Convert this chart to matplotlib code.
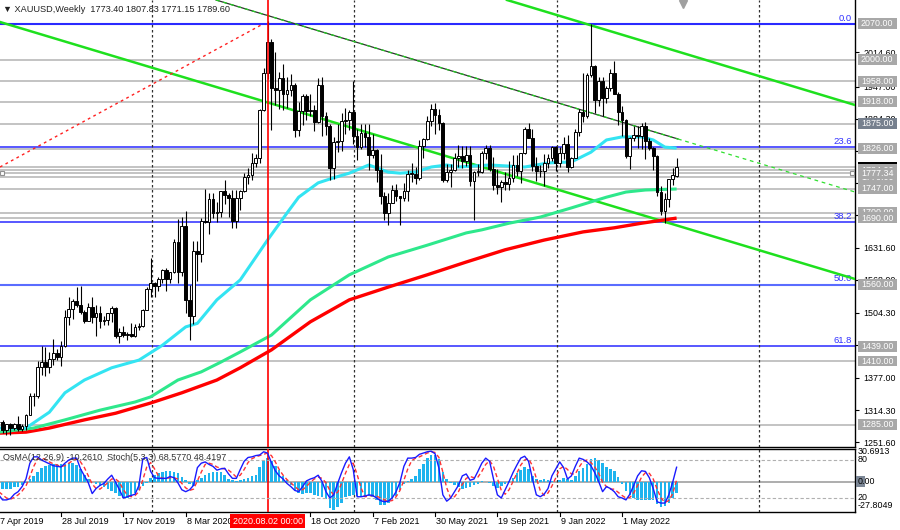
import matplotlib
matplotlib.use("Agg")
import matplotlib.pyplot as plt
import matplotlib.transforms as mtransforms
from matplotlib.patches import Rectangle

plt.rcParams['font.family'] = ['Liberation Sans', 'DejaVu Sans']

# weekly XAUUSD candles, 7 Apr 2019 .. 7 Aug 2022
opens = [1291,1290,1276,1286,1279,1286,1277,1283,1305,1341,1341,1399,1409,1399,1415,1426,1419,1440,1497,1513,
         1527,1520,1506,1488,1516,1497,1505,1489,1490,1505,1514,1459,1468,1462,1464,1460,1476,1479,1510,1552,
         1562,1557,1571,1589,1570,1584,1643,1585,1674,1530,1498,1625,1620,1684,1683,1727,1700,1702,1743,1735,
         1730,1684,1730,1743,1771,1774,1798,1808,1901,1975,2035,1944,1940,1964,1933,1940,1950,1862,1900,1930,
         1899,1902,1879,1951,1889,1871,1788,1839,1840,1881,1883,1898,1850,1829,1856,1848,1814,1824,1784,1734,
         1700,1719,1745,1733,1729,1744,1777,1777,1769,1831,1844,1881,1903,1892,1877,1764,1781,1784,1808,1812,
         1802,1814,1763,1780,1781,1818,1827,1787,1754,1750,1761,1757,1768,1793,1783,1818,1865,1846,1792,1783,
         1782,1798,1808,1829,1797,1817,1835,1791,1807,1859,1898,1889,1970,1988,1921,1958,1925,1945,1974,1932,
         1897,1883,1811,1846,1853,1851,1871,1840,1827,1811,1742,1703,1727,1766,1773.40]
highs = [1310,1295,1287,1289,1288,1303,1286,1306,1348,1348,1411,1439,1437,1427,1453,1434,1449,1510,1535,1531,
         1555,1557,1510,1523,1535,1519,1517,1498,1505,1517,1515,1475,1478,1467,1485,1482,1485,1513,1556,1611,
         1564,1575,1591,1592,1584,1649,1689,1692,1703,1560,1645,1645,1690,1747,1739,1739,1722,1740,1765,1739,
         1745,1745,1746,1779,1789,1818,1815,1903,1984,2075,2040,2015,1976,1992,1966,1973,1955,1917,1933,1933,
         1933,1911,1965,1966,1898,1875,1848,1875,1896,1906,1902,1959,1864,1875,1875,1875,1855,1826,1816,1741,
         1740,1755,1756,1733,1758,1785,1797,1790,1843,1846,1890,1913,1916,1903,1878,1795,1795,1818,1834,1832,
         1832,1832,1783,1795,1822,1834,1834,1809,1787,1764,1781,1801,1814,1813,1818,1868,1877,1865,1809,1793,
         1815,1815,1831,1831,1830,1848,1853,1810,1865,1903,1974,1974,2070,1990,1966,1966,1949,1982,1998,1936,
         1909,1884,1849,1870,1870,1876,1879,1847,1829,1813,1752,1739,1767,1788,1807.83]
lows = [1281,1270,1266,1266,1276,1274,1273,1276,1305,1323,1338,1382,1381,1386,1402,1412,1400,1437,1480,1492,
        1516,1503,1484,1488,1485,1459,1474,1480,1480,1486,1456,1445,1457,1452,1457,1458,1471,1477,1510,1535,
        1536,1547,1563,1548,1563,1582,1563,1576,1504,1451,1482,1566,1604,1680,1659,1690,1683,1692,1717,1693,
        1670,1671,1705,1741,1757,1764,1791,1797,1899,1963,1863,1911,1903,1902,1906,1929,1848,1851,1873,1882,
        1890,1860,1876,1851,1853,1764,1767,1819,1822,1855,1862,1835,1803,1826,1830,1785,1807,1761,1717,1687,
        1676,1719,1723,1677,1723,1724,1760,1756,1765,1808,1842,1870,1855,1862,1761,1761,1750,1783,1791,1789,
        1792,1753,1687,1772,1778,1806,1782,1745,1737,1721,1746,1746,1760,1772,1758,1815,1848,1782,1762,1771,
        1753,1789,1801,1782,1790,1805,1780,1788,1807,1850,1878,1885,1966,1895,1910,1890,1915,1938,1932,1872,
        1850,1808,1787,1840,1828,1825,1805,1823,1784,1733,1696,1681,1711,1754,1771.15]
closes = [1290,1276,1286,1279,1286,1277,1283,1305,1341,1341,1399,1409,1399,1415,1426,1419,1440,1497,1513,1527,
          1520,1506,1488,1516,1497,1505,1489,1490,1505,1514,1459,1468,1462,1464,1460,1476,1479,1510,1552,1562,
          1557,1571,1589,1570,1584,1643,1585,1674,1530,1498,1625,1620,1684,1683,1727,1700,1702,1743,1735,1730,
          1684,1730,1743,1771,1774,1798,1808,1901,1975,2035,1944,1940,1964,1933,1940,1950,1862,1900,1930,1899,
          1902,1879,1951,1889,1871,1788,1839,1840,1881,1883,1898,1850,1829,1856,1848,1814,1824,1784,1734,1700,
          1719,1745,1733,1729,1744,1777,1777,1769,1831,1844,1881,1903,1892,1877,1764,1781,1784,1808,1812,1802,
          1814,1763,1780,1781,1818,1827,1787,1754,1750,1761,1757,1768,1793,1783,1818,1865,1846,1792,1783,1782,
          1798,1808,1829,1797,1817,1835,1791,1807,1859,1898,1889,1970,1988,1921,1958,1925,1945,1974,1932,1897,
          1883,1811,1846,1853,1851,1871,1840,1827,1811,1742,1703,1727,1766,1775,1789.60]

# moving averages (week index, price)
cyan_weeks = [0,7,13,17,22,29,36,42,48,51,56,62,69,74,77,82,86,90,95,100,103,107,111,115,118,126,135,141,147,152,156,160,165,168,171,174]
cyan_vals = [1279,1279,1310,1348,1373,1397,1412,1441,1477,1484,1530,1569,1647,1700,1731,1759,1769,1778,1794,1780,1778,1780,1790,1794,1790,1794,1790,1798,1800,1819,1843,1849,1849,1843,1829,1827]
green_weeks = [0,9,17,26,35,39,46,52,57,62,70,80,90,100,110,120,124,131,139,147,156,161,166,174]
green_vals = [1271,1279,1295,1314,1330,1340,1373,1389,1408,1428,1461,1530,1579,1614,1637,1661,1667,1680,1692,1710,1731,1741,1745,1747]
red_weeks = [0,7,13,22,30,39,47,56,62,70,80,90,100,110,120,130,140,150,158,165,174]
red_vals = [1269,1271,1279,1295,1308,1328,1348,1373,1397,1432,1487,1530,1555,1579,1604,1628,1647,1663,1671,1680,1690]

# OsMA(12,26,9) histogram and Stoch(5,3,3)
osma = [-6,-6.5,-6.4,-6,-5,-4.5,-3,-1,2.5,6,9,13,14.5,15.5,16.5,17,16.5,17,17.5,18,
        16,12,7,3,0.5,-2,-3.5,-5,-6.5,-8,-10.5,-13,-15,-14.5,-12,-10,-7,-3.5,-1,4,
        6.5,8,9.5,10.5,10,9.5,8.5,5,1.5,-2,-3.5,2,4,6.5,8.5,9.5,9.5,9,7,3,
        1.5,1,2,3,4,5.5,7,14,20,22,20,15,11,6,2,-3,-7,-10,-11,-10.5,
        -10,-12,-13,-14,-15.5,-24,-25.5,-23,-19,-14,-13,-12,-13,-13.5,-13,-12.5,-14,-17,-21,-21.5,
        -19,-16,-12.5,-7,-2,1,3,6,12,17,22,25,25.5,21.5,9,3,-1,-3,-5,-6,
        -5.5,-4.5,-3,-1.5,1,0.5,-1,-3.5,-5.5,-4,-2,1,4,8,11,14,12,6,3,2,
        2.5,2,1,0,2,4,3,2,6,10,13,17,21,22,20.5,17.5,14,12,10,5,
        -2,-8,-12,-15,-17,-17,-17,-16.5,-17,-20,-23,-22,-19,-15,-10.26]
stoch_main = [25,17,17,19,26,30,38,50,75,85,85,80,77,74,71,70,69,75,80,83,
              83,66,55,44,27,35,40,43,50,56,45,33,20,22,24,26,40,82,84,62,
              52,51,51,51,54,52,44,33,30,33,40,68,75,77,73,70,64,66,67,58,
              51,51,65,78,84,85,87,88,93,91,76,63,55,50,43,38,32,30,38,47,
              50,52,56,46,30,20,25,43,60,75,85,65,22,22,23,25,24,20,16,14,
              15,20,30,45,70,83,83,84,89,91,93,94,90,67,25,15,20,30,40,55,
              58,48,50,62,75,83,78,50,25,20,33,46,60,72,83,86,78,50,25,22,
              26,35,55,66,77,68,50,55,70,83,81,77,71,60,46,30,38,35,30,22,
              20,17,26,40,55,63,62,52,35,14,12,12,25,45,68.58]
stoch_signal = [30,25,20,18,21,25,31,39,54,70,82,83,81,77,74,72,70,71,75,79,
                82,77,68,55,42,35,34,39,44,50,50,45,33,25,22,24,30,49,69,76,
                66,55,51,51,52,52,50,43,36,32,34,47,61,73,75,73,69,67,66,64,
                59,53,56,65,76,82,85,87,89,91,87,77,65,56,49,44,38,33,33,38,
                45,50,53,51,44,32,25,29,43,59,73,75,57,36,22,23,24,23,20,17,
                15,16,22,32,48,66,79,83,85,88,91,93,92,84,61,36,20,22,30,42,
                51,54,52,53,62,73,79,70,51,32,26,33,46,59,72,80,82,71,51,32,
                24,28,39,52,66,70,65,58,58,69,78,80,76,69,59,45,38,34,34,29,
                24,20,21,28,40,53,60,59,50,34,20,13,16,27,48.42]

gray_levels = [2000, 1958, 1918, 1875, 1826, 1790, 1784, 1777.34, 1770, 1747, 1700, 1690, 1410, 1285]
fib_prices = [2070, 1830, 1682, 1560, 1440]
fib_names = ['0.0', '23.6', '38.2', '50.0', '61.8']
axis_ticks = [2014.60, 1947.00, 1884.30, 1821.60, 1758.90, 1696.20, 1631.60, 1568.90,
              1504.30, 1441.60, 1377.00, 1314.30, 1251.60]
# price boxes on the axis, in drawing order (later ones cover earlier ones)
box_prices = [2070, 2000, 1958, 1918, 1875, 1826, 1789.60, 1770, 1784, 1777.34,
              1747, 1700, 1690, 1560, 1439, 1410, 1285]
box_colors = ['#a8a8a8', '#a8a8a8', '#a8a8a8', '#a8a8a8', '#76808e', '#a8a8a8', '#000000',
              '#a8a8a8', '#a8a8a8', '#a8a8a8', '#a8a8a8', '#a8a8a8', '#a8a8a8', '#a8a8a8',
              '#a8a8a8', '#a8a8a8', '#a8a8a8']
date_weeks = [0, 16, 32, 48, 80, 96, 112, 128, 144, 160]
date_labels = ['7 Apr 2019', '28 Jul 2019', '17 Nov 2019', '8 Mar 2020', '18 Oct 2020', '7 Feb 2021',
               '30 May 2021', '19 Sep 2021', '9 Jan 2022', '1 May 2022']
separators = [39.35, 91.2, 143.3, 195.15]
marked_week = 69


def px_x(x):
    return (x + 1.3) / 3.896


def px_y(y):
    return 2070 - (y - 24) * 1.9577


W, H = 900, 530
FS = 6.4
fig = plt.figure(figsize=(9, 5.3), dpi=100)
fig.patch.set_facecolor('white')
ax = fig.add_axes([0, 1 - 447 / H, 855 / W, 447 / H])
ax2 = fig.add_axes([0, 1 - 512 / H, 855 / W, 63 / H])
xl = (px_x(0), px_x(855))
ax.set_xlim(xl)
ax2.set_xlim(xl)
ax.set_ylim(px_y(447), px_y(0))

for a in (ax, ax2):
    a.spines['left'].set_visible(False)
    a.spines['top'].set_visible(a is ax2)
    for s in a.spines.values():
        s.set_linewidth(1.0)
    a.set_xticks([])

# horizontal levels
for lv in gray_levels:
    ax.axhline(lv, color='#b9b9b9', lw=1.2, zorder=1)
for fp, fn in zip(fib_prices, fib_names):
    col = '#5a6cff' if fn == '50.0' else '#2a2aff'
    ax.axhline(fp, color=col, lw=1.5 if fn in ('0.0', '50.0') else 1.1, zorder=2)
    ax.text(852, fp + 2, fn, transform=mtransforms.blended_transform_factory(
        mtransforms.IdentityTransform(), ax.transData), color='#3030ff', fontsize=6.8,
        ha='right', va='bottom', zorder=3)

# trend lines
ax.plot([px_x(0), px_x(855)], [px_y(22), px_y(279)], color='#1ee01e', lw=1.8, zorder=3)
ax.plot([px_x(507), px_x(855)], [px_y(0), px_y(105)], color='#1ee01e', lw=1.8, zorder=3)
ax.plot([px_x(216), px_x(678)], [px_y(0), px_y(139)], color='#303030', lw=0.9, zorder=3)
ax.plot([px_x(216), px_x(678)], [px_y(0), px_y(139)], color='#20d020', lw=0.9,
        dashes=(3, 3), zorder=3)
ax.plot([px_x(678), px_x(855)], [px_y(139), px_y(192)], color='#30e030', lw=0.9,
        dashes=(3, 3), zorder=3)
ax.plot([px_x(0), px_x(263)], [px_y(167), px_y(24)], color='#ff2020', lw=1.0,
        dashes=(2, 2.5), zorder=3)

# separators and marked bar
for a in (ax, ax2):
    for s in separators:
        a.axvline(s, color='#303030', lw=0.9, ls=(0, (2, 2)), zorder=2)
    a.axvline(marked_week, color='#ff0000', lw=1.2, zorder=6)

# moving averages
ax.plot(red_weeks, red_vals, color='#ff0000', lw=2.4, zorder=4, solid_capstyle='butt')
ax.plot(green_weeks, green_vals, color='#2ee88c', lw=2.2, zorder=4, solid_capstyle='butt')
ax.plot(cyan_weeks, cyan_vals, color='#33e4f2', lw=2.2, zorder=4, solid_capstyle='butt')

# candles
idx = list(range(len(closes)))
ax.vlines(idx, lows, highs, color='black', lw=0.8, zorder=5)
bull = [i for i in idx if closes[i] >= opens[i]]
bear = [i for i in idx if closes[i] < opens[i]]
ax.bar(bull, [max(closes[i] - opens[i], 1.5) for i in bull], bottom=[opens[i] for i in bull],
       width=0.7, color='white', edgecolor='black', linewidth=0.7, zorder=5)
ax.bar(bear, [opens[i] - closes[i] for i in bear], bottom=[closes[i] for i in bear],
       width=0.7, color='black', edgecolor='black', linewidth=0.7, zorder=5)
ax.plot([px_x(2), px_x(852)], [1777.34, 1777.34], ls='none', marker='s', ms=3,
        mfc='white', mec='#909090', mew=0.8, zorder=6)

# price axis
ax.yaxis.tick_right()
ax.set_yticks(axis_ticks)
ax.set_yticklabels(['%.2f' % t for t in axis_ticks])
ax.tick_params(axis='y', labelsize=FS, length=3, width=0.8, pad=3, colors='black')
btr = mtransforms.blended_transform_factory(ax.transAxes, ax.transData)
for k, (price, col) in enumerate(zip(box_prices, box_colors)):
    ax.add_patch(Rectangle((858 / 855, price - 10.5), 39 / 855, 21.5, transform=btr,
                           facecolor=col, edgecolor='none', clip_on=False, zorder=10 + 2 * k))
    ax.text(861 / 855, price, '%.2f' % price, transform=btr, color='white', fontsize=FS,
            va='center', ha='left', zorder=11 + 2 * k, clip_on=False)

# indicator window
x_idx = list(range(len(osma)))
ax2.set_ylim(-27.8049, 30.6913)
ax2.axhline(0, color='#a0a0a0', lw=1.2, zorder=1)
ax2.bar(x_idx, osma, width=0.65, color='#1eb4ee', zorder=2)
ax2.set_yticks([])
ax3 = ax2.twinx()
ax3.set_xlim(xl)
ax3.set_ylim(-2.1, 97.4)
ax3.set_yticks([])
for s in ax3.spines.values():
    s.set_visible(False)
ax3.axhline(80, color='#b0b0b0', lw=0.8, ls=(0, (3, 2)))
ax3.axhline(20, color='#b0b0b0', lw=0.8, ls=(0, (3, 2)))
ax3.plot(x_idx, stoch_signal, color='#ff3333', lw=1.0, dashes=(3, 2), zorder=3)
ax3.plot(x_idx, stoch_main, color='#1a1aff', lw=1.0, zorder=4)


def ftext(x, y, s, **kw):
    fig.text(x / W, 1 - y / H, s, **kw)


ftext(3, 9, '\u25bc XAUUSD,Weekly  1773.40 1807.83 1771.15 1789.60', fontsize=6.6,
      va='center', ha='left', color='#222222')
ftext(3, 458, 'OsMA(12,26,9) -10.2610  Stoch(5,3,3) 68.5770 48.4197', fontsize=6.5,
      va='center', ha='left', color='#333333')
fig.add_artist(plt.Line2D([683 / W], [1 - 4 / H], marker='v', ms=6, color='#a0a0a0',
                          transform=fig.transFigure))

for lab, yy in [('30.6913', 452), ('80', 460), ('20', 497), ('-27.8049', 505)]:
    ftext(858, yy, lab, fontsize=FS, va='center', ha='left')
fig.add_artist(Rectangle((856 / W, 1 - 486.5 / H), 9 / W, 11 / H, transform=fig.transFigure,
                         facecolor='#7c8796', edgecolor='none'))
ftext(858, 481, '0.00', fontsize=FS, va='center', ha='left')

# date axis
for wk, lab in zip(date_weeks, date_labels):
    xp = -1.3 + 3.896 * wk
    fig.add_artist(plt.Line2D([xp / W, xp / W], [1 - 512 / H, 1 - 516 / H],
                              color='black', lw=0.8, transform=fig.transFigure))
    ftext(xp + 1, 521, lab, fontsize=6.5, va='center', ha='left')
mx = -1.3 + 3.896 * marked_week
ftext(mx, 521, '2020.08.02 00:00', fontsize=6.5, va='center', ha='center', color='white',
      bbox=dict(boxstyle='square,pad=0.25', fc='#ff0000', ec='none'))

fig.savefig('out.png', dpi=100, facecolor='white')
